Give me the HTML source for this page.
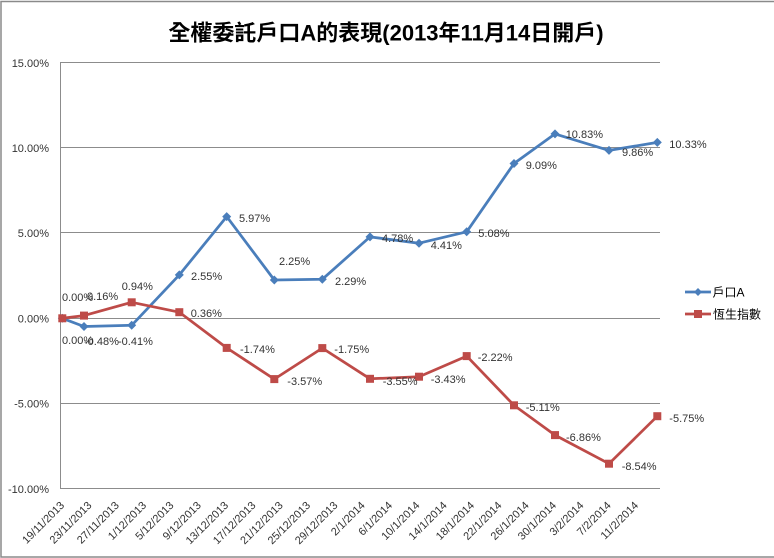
<!DOCTYPE html>
<html>
<head>
<meta charset="utf-8">
<style>
html,body{margin:0;padding:0;background:#fff;}
svg{display:block;}
text{font-family:"Liberation Sans","Noto Sans CJK TC",sans-serif;}
.lbl{font-size:11px;fill:#333;}
.ax{font-size:11px;fill:#333;}
</style>
</head>
<body>
<svg width="774" height="558" viewBox="0 0 774 558" xmlns="http://www.w3.org/2000/svg">
<rect x="0" y="0" width="774" height="558" fill="#fff"/>
<!-- outer border -->
<rect x="1" y="1.5" width="780" height="555.5" fill="none" stroke="#8a8a8a" stroke-width="1.5"/>

<!-- title -->
<text x="386" y="40.5" text-anchor="middle" font-size="22" font-weight="bold" fill="#000">全權委託戶口A的表現(2013年11月14日開戶)</text>

<!-- gridlines -->
<g stroke="#8c8c8c" stroke-width="1">
<line x1="60" y1="62.5" x2="660" y2="62.5"/>
<line x1="60" y1="147.5" x2="660" y2="147.5"/>
<line x1="60" y1="232.5" x2="660" y2="232.5"/>
<line x1="60" y1="318.5" x2="660" y2="318.5"/>
<line x1="60" y1="403.5" x2="660" y2="403.5"/>
<line x1="60" y1="488.5" x2="660" y2="488.5"/>
<line x1="60.5" y1="62.5" x2="60.5" y2="488.5"/>
</g>

<!-- y axis labels -->
<g class="ax" text-anchor="end">
<text x="49" y="67">15.00%</text>
<text x="49" y="152">10.00%</text>
<text x="49" y="237">5.00%</text>
<text x="49" y="322.5">0.00%</text>
<text x="49" y="407.5">-5.00%</text>
<text x="49" y="493">-10.00%</text>
</g>

<!-- x axis labels -->
<g class="ax" text-anchor="end">
<text transform="translate(65,506) rotate(-45)">19/11/2013</text>
<text transform="translate(92.3,506) rotate(-45)">23/11/2013</text>
<text transform="translate(119.7,506) rotate(-45)">27/11/2013</text>
<text transform="translate(147,506) rotate(-45)">1/12/2013</text>
<text transform="translate(174.3,506) rotate(-45)">5/12/2013</text>
<text transform="translate(201.7,506) rotate(-45)">9/12/2013</text>
<text transform="translate(229,506) rotate(-45)">13/12/2013</text>
<text transform="translate(256.3,506) rotate(-45)">17/12/2013</text>
<text transform="translate(283.6,506) rotate(-45)">21/12/2013</text>
<text transform="translate(311,506) rotate(-45)">25/12/2013</text>
<text transform="translate(338.3,506) rotate(-45)">29/12/2013</text>
<text transform="translate(365.6,506) rotate(-45)">2/1/2014</text>
<text transform="translate(393,506) rotate(-45)">6/1/2014</text>
<text transform="translate(420.3,506) rotate(-45)">10/1/2014</text>
<text transform="translate(447.6,506) rotate(-45)">14/1/2014</text>
<text transform="translate(474.9,506) rotate(-45)">18/1/2014</text>
<text transform="translate(502.3,506) rotate(-45)">22/1/2014</text>
<text transform="translate(529.6,506) rotate(-45)">26/1/2014</text>
<text transform="translate(556.9,506) rotate(-45)">30/1/2014</text>
<text transform="translate(584.3,506) rotate(-45)">3/2/2014</text>
<text transform="translate(611.6,506) rotate(-45)">7/2/2014</text>
<text transform="translate(639,506) rotate(-45)">11/2/2014</text>
</g>

<!-- blue series -->
<polyline fill="none" stroke="#4A7EBB" stroke-width="2.75" stroke-linejoin="round"
points="62.3,318.3 84,326.5 131.7,325.3 179.3,274.9 226.7,216.6 274.3,280 322.3,279.3 370,236.9 419,243.2 466.7,231.8 514,163.5 555,133.9 609,150.4 657.3,142.4"/>
<g fill="#4A7EBB">
<polygon points="62.3,313.8 66.8,318.3 62.3,322.8 57.8,318.3"/>
<polygon points="84,322 88.5,326.5 84,331 79.5,326.5"/>
<polygon points="131.7,320.8 136.2,325.3 131.7,329.8 127.2,325.3"/>
<polygon points="179.3,270.4 183.8,274.9 179.3,279.4 174.8,274.9"/>
<polygon points="226.7,212.1 231.2,216.6 226.7,221.1 222.2,216.6"/>
<polygon points="274.3,275.5 278.8,280 274.3,284.5 269.8,280"/>
<polygon points="322.3,274.8 326.8,279.3 322.3,283.8 317.8,279.3"/>
<polygon points="370,232.4 374.5,236.9 370,241.4 365.5,236.9"/>
<polygon points="419,238.7 423.5,243.2 419,247.7 414.5,243.2"/>
<polygon points="466.7,227.3 471.2,231.8 466.7,236.3 462.2,231.8"/>
<polygon points="514,159 518.5,163.5 514,168 509.5,163.5"/>
<polygon points="555,129.4 559.5,133.9 555,138.4 550.5,133.9"/>
<polygon points="609,145.9 613.5,150.4 609,154.9 604.5,150.4"/>
<polygon points="657.3,137.9 661.8,142.4 657.3,146.9 652.8,142.4"/>
</g>

<!-- red series -->
<polyline fill="none" stroke="#BE4B48" stroke-width="2.75" stroke-linejoin="round"
points="62.3,318.3 84,315.6 131.7,302.3 179.3,312.2 226.7,347.9 274.3,379.1 322.3,348.1 370,378.8 419,376.7 466.7,356.1 514,405.3 555,435.1 609,463.7 657.3,416.2"/>
<g fill="#BE4B48">
<rect x="58.3" y="314.3" width="8" height="8"/>
<rect x="80" y="311.6" width="8" height="8"/>
<rect x="127.7" y="298.3" width="8" height="8"/>
<rect x="175.3" y="308.2" width="8" height="8"/>
<rect x="222.7" y="343.9" width="8" height="8"/>
<rect x="270.3" y="375.1" width="8" height="8"/>
<rect x="318.3" y="344.1" width="8" height="8"/>
<rect x="366" y="374.8" width="8" height="8"/>
<rect x="415" y="372.7" width="8" height="8"/>
<rect x="462.7" y="352.1" width="8" height="8"/>
<rect x="510" y="401.3" width="8" height="8"/>
<rect x="551" y="431.1" width="8" height="8"/>
<rect x="605" y="459.7" width="8" height="8"/>
<rect x="653.3" y="412.2" width="8" height="8"/>
</g>

<!-- blue labels -->
<g class="lbl">
<text x="62" y="344">0.00%</text>
<text x="84" y="345">-0.48%</text>
<text x="118" y="345">-0.41%</text>
<text x="191" y="280">2.55%</text>
<text x="239" y="222">5.97%</text>
<text x="279" y="265">2.25%</text>
<text x="335" y="285">2.29%</text>
<text x="382" y="242">4.78%</text>
<text x="430.7" y="249">4.41%</text>
<text x="478.3" y="237">5.08%</text>
<text x="525.7" y="169">9.09%</text>
<text x="565.7" y="138">10.83%</text>
<text x="622" y="156">9.86%</text>
<text x="669.3" y="148">10.33%</text>
</g>

<!-- red labels -->
<g class="lbl">
<text x="62" y="301">0.00%</text>
<text x="87" y="300">0.16%</text>
<text x="121.7" y="290">0.94%</text>
<text x="190.7" y="317">0.36%</text>
<text x="240" y="353">-1.74%</text>
<text x="287.3" y="385">-3.57%</text>
<text x="334.3" y="353">-1.75%</text>
<text x="382.7" y="385">-3.55%</text>
<text x="430.7" y="383">-3.43%</text>
<text x="477.7" y="361">-2.22%</text>
<text x="525.7" y="411">-5.11%</text>
<text x="566" y="441">-6.86%</text>
<text x="621.7" y="470">-8.54%</text>
<text x="669.3" y="422">-5.75%</text>
</g>

<!-- legend -->
<line x1="685" y1="292" x2="711" y2="292" stroke="#4A7EBB" stroke-width="2.75"/>
<polygon points="698,288 702,292 698,296 694,292" fill="#4A7EBB"/>
<text x="712.5" y="296.5" font-size="12" fill="#000">戶口A</text>
<line x1="685" y1="314" x2="711" y2="314" stroke="#BE4B48" stroke-width="2.75"/>
<rect x="694" y="310" width="8" height="8" fill="#BE4B48"/>
<text x="713" y="318.5" font-size="12" fill="#000">恆生指數</text>
</svg>
</body>
</html>
